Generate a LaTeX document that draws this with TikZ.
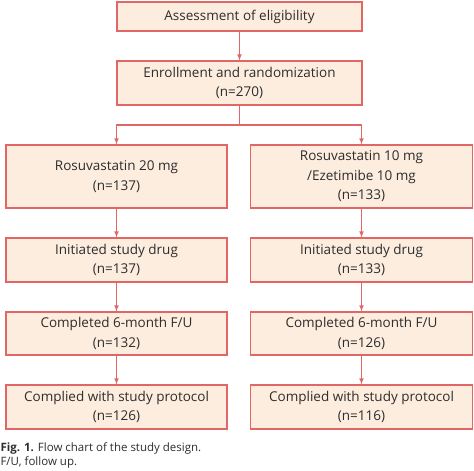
\documentclass[tikz,border=0pt]{standalone}
\usepackage{fontspec}
\setmainfont{Open Sans}
\usepackage{tikz}
\usetikzlibrary{arrows}
\usetikzlibrary{positioning}
\definecolor{boxline}{RGB}{225,102,102}
\definecolor{boxfill}{RGB}{253,237,222}
\definecolor{textgray}{RGB}{45,45,45}
\begin{document}
\begin{tikzpicture}[x=1pt,y=-1pt,->,>=latex,line width=1.1pt,
  box/.style={shape=rectangle,draw=boxline,fill=boxfill,text=textgray,
    align=center,font=\fontsize{13.5}{19.5}\selectfont,inner sep=2pt}]

\clip (0,0) rectangle (474,471);

% Common steps
\node[box,minimum width=245,minimum height=29] (Elig) at (239.5,16.5) {Assessment of eligibility};
\node[box,minimum width=245,minimum height=44] (Enrol) at (239.5,83) {Enrollment and randomization\\(n=270)};
\coordinate (Split) at (239.5,125);

% Rosuvastatin arm
\node[box,minimum width=221,minimum height=63] (L1) at (116.5,176.5) {Rosuvastatin 20 mg\\(n=137)};
\node[box,minimum width=221,minimum height=44] (L2) at (116.5,260) {Initiated study drug\\(n=137)};
\node[box,minimum width=221,minimum height=43] (L3) at (116.5,333.5) {Completed 6-month F/U\\(n=132)};
\node[box,minimum width=221,minimum height=44] (L4) at (116.5,407) {Complied with study protocol\\(n=126)};

% Combination arm
\node[box,minimum width=222,minimum height=63] (R1) at (361.5,176.5) {Rosuvastatin 10 mg\\/Ezetimibe 10 mg\\(n=133)};
\node[box,minimum width=222,minimum height=44] (R2) at (361.5,260) {Initiated study drug\\(n=133)};
\node[box,minimum width=222,minimum height=43] (R3) at (361.5,333.5) {Completed 6-month F/U\\(n=126)};
\node[box,minimum width=222,minimum height=44] (R4) at (361.5,407) {Complied with study protocol\\(n=116)};

% Arrows
\draw[boxline] (Elig) -- (Enrol);
\draw[boxline,-] (Enrol) -- (Split);
\draw[boxline] (Split) -| (L1);
\draw[boxline] (Split) -| (R1);
\draw[boxline] (L1) -- (L2);
\draw[boxline] (L2) -- (L3);
\draw[boxline] (L3) -- (L4);
\draw[boxline] (R1) -- (R2);
\draw[boxline] (R2) -- (R3);
\draw[boxline] (R3) -- (R4);

% Caption
\node[anchor=north west,align=left,text=textgray,inner sep=0pt,
  font=\fontsize{11.5}{14}\selectfont] (Cap) at (0,442)
  {\textbf{Fig. 1.} Flow chart of the study design.\\F/U, follow up.};

\end{tikzpicture}
\end{document}
